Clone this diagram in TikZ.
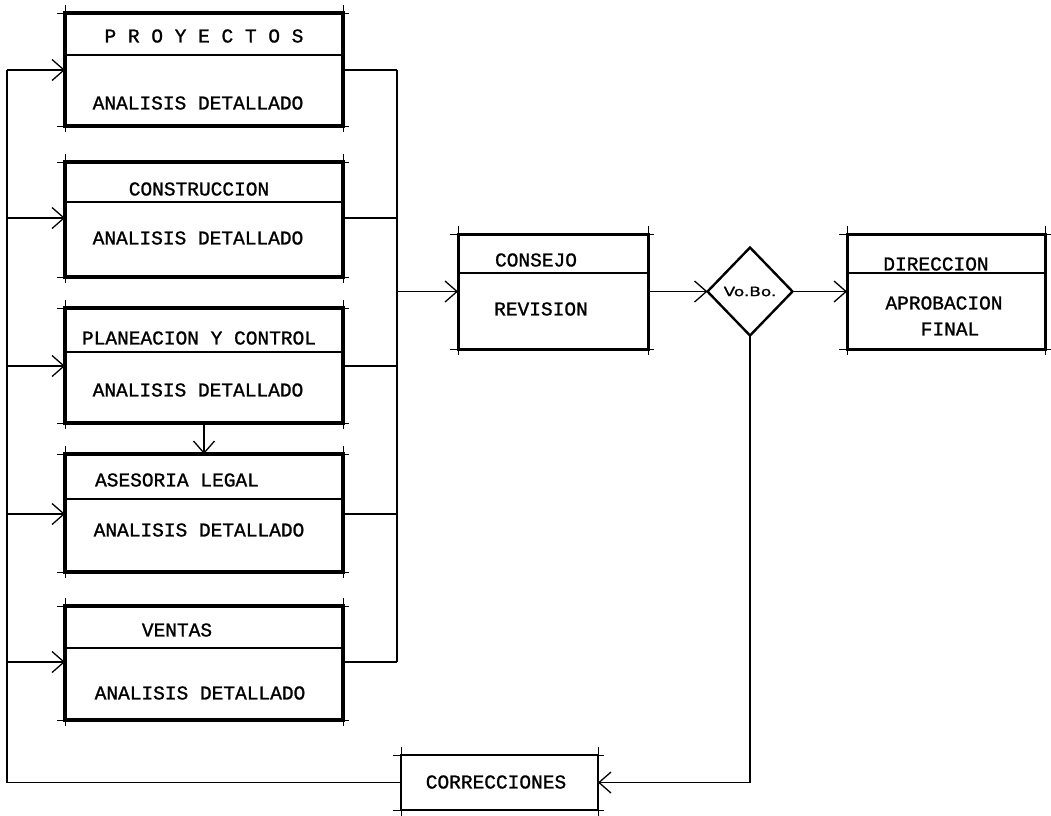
\documentclass[tikz,border=0pt]{standalone}
\usepackage{graphicx}
\usepackage{fontspec}
\newfontfamily\twfont{Liberation Mono}[FakeBold=1.2]
\newfontfamily\vbfont{DejaVu Sans}[FakeBold=0.8]
\usetikzlibrary{arrows.meta,shapes.geometric}
\newcommand\boxticks[1]{%
  \draw[cornertick] ([xshift=-8pt]#1.north west) -- ([xshift=6pt]#1.north east);
  \draw[cornertick] ([xshift=-8pt]#1.south west) -- ([xshift=6pt]#1.south east);
  \draw[cornertick] ([yshift=8pt]#1.north west) -- ([yshift=-6pt]#1.south west);
  \draw[cornertick] ([yshift=8pt]#1.north east) -- ([yshift=-6pt]#1.south east);
}
\begin{document}
\begin{tikzpicture}[x=1pt,y=-1pt,
  bigbox/.style={draw, rectangle, line width=3.6pt, inner sep=0pt, outer sep=0pt, anchor=north west},
  midbox/.style={bigbox, line width=3pt},
  smallbox/.style={bigbox, line width=2.4pt},
  divider/.style={line width=1.2pt},
  cornertick/.style={line width=1pt},
  conn/.style={line width=1.3pt},
  arr/.style={conn, -{Straight Barb[length=12pt,width=21pt]}},
  lbl/.style={font=\twfont\fontsize{19.5}{20}\selectfont, inner sep=0pt},
  vbstyle/.style={draw, shape=diamond, line width=2.4pt, inner sep=0pt, outer sep=0pt, minimum width=85pt, minimum height=88pt}
]
\useasboundingbox (0,0) rectangle (1051,815);

% left boxes
\node[bigbox, minimum width=278pt, minimum height=113pt] (b1) at (65,13) {};
\node[bigbox, minimum width=278pt, minimum height=115pt] (b2) at (65,162) {};
\node[bigbox, minimum width=278pt, minimum height=115pt] (b3) at (65,308) {};
\node[bigbox, minimum width=278pt, minimum height=118pt] (b4) at (65,454) {};
\node[bigbox, minimum width=278pt, minimum height=114pt] (b5) at (65,606) {};
\foreach \b in {b1,b2,b3,b4,b5} {\boxticks{\b}}
\draw[divider] ([yshift=-42pt]b1.north west) -- ([yshift=-42pt]b1.north east);
\draw[divider] ([yshift=-40pt]b2.north west) -- ([yshift=-40pt]b2.north east);
\draw[divider] ([yshift=-44pt]b3.north west) -- ([yshift=-44pt]b3.north east);
\draw[divider] ([yshift=-45pt]b4.north west) -- ([yshift=-45pt]b4.north east);
\draw[divider] ([yshift=-42pt]b5.north west) -- ([yshift=-42pt]b5.north east);

\node[lbl] (t1a) at (204,36) {P R O Y E C T O S};
\node[lbl] (t1b) at (198,103) {ANALISIS DETALLADO};
\node[lbl] (t2a) at (199,189) {CONSTRUCCION};
\node[lbl] (t2b) at (198,238) {ANALISIS DETALLADO};
\node[lbl] (t3a) at (199,338) {PLANEACION Y CONTROL};
\node[lbl] (t3b) at (198,390) {ANALISIS DETALLADO};
\node[lbl] (t4a) at (177,480) {ASESORIA LEGAL};
\node[lbl] (t4b) at (199,530) {ANALISIS DETALLADO};
\node[lbl] (t5a) at (177,630) {VENTAS};
\node[lbl] (t5b) at (200,693) {ANALISIS DETALLADO};

% consejo
\node[midbox, minimum width=190pt, minimum height=115pt] (consejo) at (458,234) {};
\boxticks{consejo}
\draw[divider] ([yshift=-39pt]consejo.north west) -- ([yshift=-39pt]consejo.north east);
\node[lbl] (tc1) at (536,260) {CONSEJO};
\node[lbl] (tc2) at (541,309) {REVISION};

% vo.bo.
\node[vbstyle] (vobo) at (750,291.5) {};
\node[inner sep=0pt, font=\vbfont\fontsize{13}{13}\selectfont] (vbtext) at (vobo.center) {\scalebox{1.3}[1]{Vo.Bo.}};

% direccion
\node[midbox, minimum width=198pt, minimum height=115pt] (dir) at (847,234) {};
\boxticks{dir}
\draw[divider] ([yshift=-39pt]dir.north west) -- ([yshift=-39pt]dir.north east);
\node[lbl] (td1) at (936,264) {DIRECCION};
\node[lbl] (td2) at (944,303) {APROBACION};
\node[lbl] (td3) at (950,329) {FINAL};

% correcciones
\node[smallbox, minimum width=197pt, minimum height=55pt] (corr) at (401,755) {};
\boxticks{corr}
\node[lbl] (tcorr) at (496,782) {CORRECCIONES};

% buses
\coordinate (L1) at (7,70);
\coordinate (L2) at (7,218);
\coordinate (L3) at (7,366);
\coordinate (L4) at (7,514);
\coordinate (L5) at (7,662);
\coordinate (R1) at (397,70);
\coordinate (R2) at (397,218);
\coordinate (R3) at (397,366);
\coordinate (R4) at (397,514);
\coordinate (R5) at (397,662);
\coordinate (RM) at (397,291.5);

\draw[arr] (L1) -- (b1.west |- L1);
\draw[arr] (L2) -- (b2.west |- L2);
\draw[arr] (L3) -- (b3.west |- L3);
\draw[arr] (L4) -- (b4.west |- L4);
\draw[arr] (L5) -- (b5.west |- L5);
\draw[conn] (b1.east |- R1) -- (R1);
\draw[conn] (b2.east |- R2) -- (R2);
\draw[conn] (b3.east |- R3) -- (R3);
\draw[conn] (b4.east |- R4) -- (R4);
\draw[conn] (b5.east |- R5) -- (R5);
\draw[conn] (R1) -- (R5);
\draw[arr] (RM) -- (consejo.west |- RM);
\draw[arr] (b3.south) -- (b4.north);
\draw[arr] (consejo.east) -- (vobo.west);
\draw[arr] (vobo.east) -- (dir.west);
\draw[arr] (vobo.south) |- (corr.east);
\draw[conn] (corr.west) -| (L1);
\end{tikzpicture}
\end{document}
